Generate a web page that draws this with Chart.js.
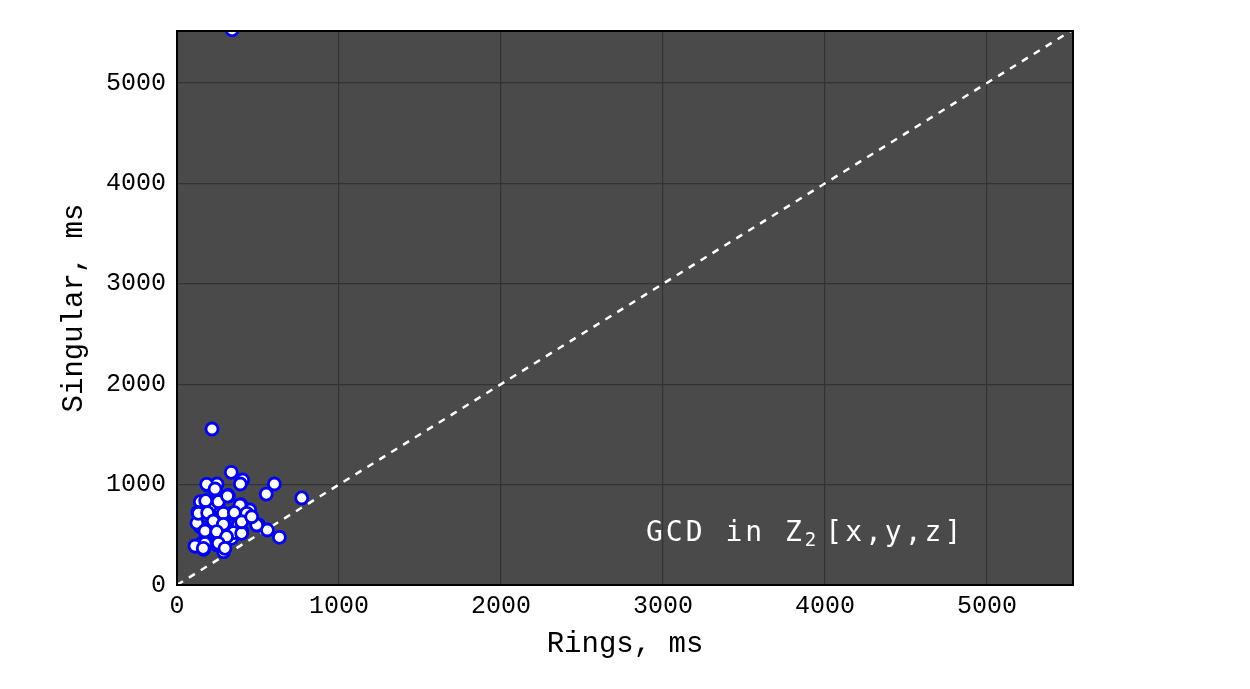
<!DOCTYPE html>
<html>
<head>
<meta charset="utf-8">
<script src="https://cdn.jsdelivr.net/npm/chart.js@4/dist/chart.umd.min.js"></script>
<style>
html,body{margin:0;padding:0;background:#fff;}
#wrap{width:1250px;height:689px;position:relative;}
</style>
</head>
<body>
<div id="wrap"><canvas id="c" width="1250" height="689"></canvas></div>
<script>
// Data
const ringsMs = [340, 216, 335, 405, 391, 601, 551, 770, 189, 237, 247, 315, 185, 144, 128, 189, 282, 340, 395, 449, 432, 370, 220, 292, 504, 558, 632, 168, 144, 350, 401, 251, 319, 179, 113, 165, 247, 288, 379, 267, 257, 204, 123, 154, 183, 235, 317, 173, 337, 255, 290, 177, 255, 312, 389, 430, 132, 189, 286, 354, 224, 286, 173, 348, 245, 173, 111, 306, 399, 255, 162, 296, 492, 399, 461];
const singularMs = [5530, 1554, 1122, 1046, 1006, 1006, 906, 867, 996, 956, 1006, 890, 840, 830, 724, 724, 707, 714, 797, 747, 707, 714, 640, 608, 598, 548, 475, 548, 581, 521, 531, 488, 475, 421, 388, 355, 398, 332, 598, 647, 780, 780, 617, 418, 1003, 956, 889, 541, 465, 475, 614, 840, 830, 886, 797, 714, 714, 720, 714, 720, 637, 604, 538, 521, 531, 415, 388, 481, 515, 415, 365, 365, 598, 630, 680];
const diagonal = [0, 5600];
const xTicks = [0, 1000, 2000, 3000, 4000, 5000];
const yTicks = [0, 1000, 2000, 3000, 4000, 5000];
const axisMaxX = 5531;
const axisMaxY = 5518;
const xTitle = 'Rings, ms';
const yTitle = 'Singular, ms';
const annText = 'GCD in Z';
const annSub = '2';
const annRest = '[x,y,z]';

const monoFamily = '"Liberation Mono", "Courier New", monospace';
const tickFont = {family: monoFamily, size: 25};
const titleFont = {family: monoFamily, size: 29};

const bgPlugin = {
  id: 'bg',
  beforeDraw(chart) {
    const {ctx, chartArea: a} = chart;
    ctx.save();
    ctx.fillStyle = '#4a4a4a';
    ctx.fillRect(a.left, a.top, a.right - a.left, a.bottom - a.top);
    ctx.restore();
  },
  afterDraw(chart) {
    const {ctx, chartArea: a} = chart;
    ctx.save();
    // annotation
    ctx.fillStyle = '#ffffff';
    ctx.textBaseline = 'alphabetic';
    ctx.textAlign = 'left';
    const xPos = chart.scales.x.getPixelForValue(2895);
    const yPos = chart.scales.y.getPixelForValue(440);
    ctx.letterSpacing = '3px';
    ctx.font = '28px "DejaVu Sans Mono", monospace';
    ctx.fillText(annText, xPos, yPos);
    let x = xPos + ctx.measureText(annText).width;
    ctx.letterSpacing = '0px';
    ctx.font = '19px "DejaVu Sans Mono", monospace';
    ctx.fillText(annSub, x, yPos + 5);
    x += ctx.measureText(annSub).width + 9;
    ctx.letterSpacing = '3px';
    ctx.font = '28px "DejaVu Sans Mono", monospace';
    ctx.fillText(annRest, x, yPos);
    // frame
    ctx.letterSpacing = '0px';
    ctx.strokeStyle = '#000';
    ctx.lineWidth = 2;
    ctx.strokeRect(a.left, a.top, a.right - a.left, a.bottom - a.top);
    ctx.restore();
  }
};

new Chart(document.getElementById('c'), {
  type: 'scatter',
  data: {
    datasets: [
      {
        type: 'line',
        data: diagonal.map(v => ({x: v, y: v})),
        borderColor: '#ffffff',
        borderWidth: 2.5,
        borderDash: [7, 7],
        pointRadius: 0,
        fill: false,
        order: 2
      },
      {
        data: ringsMs.map((v, i) => ({x: v, y: singularMs[i]})),
        backgroundColor: '#ffffff',
        borderColor: '#0000ff',
        borderWidth: 2.8,
        pointRadius: 6,
        pointHoverRadius: 6,
        clip: 0,
        order: 1
      }
    ]
  },
  options: {
    responsive: false,
    animation: false,
    events: [],
    layout: {padding: {left: 0, right: 177, top: 31, bottom: 0}},
    plugins: {legend: {display: false}, tooltip: {enabled: false}},
    scales: {
      x: {
        type: 'linear',
        min: 0, max: axisMaxX,
        afterBuildTicks(s) { s.ticks = xTicks.map(v => ({value: v})); },
        afterFit(s) { s.height = 104; },
        ticks: {color: '#000', font: tickFont, padding: 6, maxRotation: 0, callback: v => String(v)},
        grid: {color: '#333333', lineWidth: 1.2, drawTicks: false},
        border: {display: false},
        title: {display: true, text: xTitle, color: '#000', font: titleFont, padding: {top: 4, bottom: 27}}
      },
      y: {
        type: 'linear',
        min: 0, max: axisMaxY,
        afterBuildTicks(s) { s.ticks = yTicks.map(v => ({value: v})); },
        afterFit(s) { s.width = 177; },
        ticks: {color: '#000', font: tickFont, padding: 11, callback: v => String(v)},
        grid: {color: '#333333', lineWidth: 1.2, drawTicks: false},
        border: {display: false},
        title: {display: true, text: yTitle, color: '#000', font: titleFont, padding: {top: 57, bottom: 4}}
      }
    }
  },
  plugins: [bgPlugin]
});
</script>
</body>
</html>
